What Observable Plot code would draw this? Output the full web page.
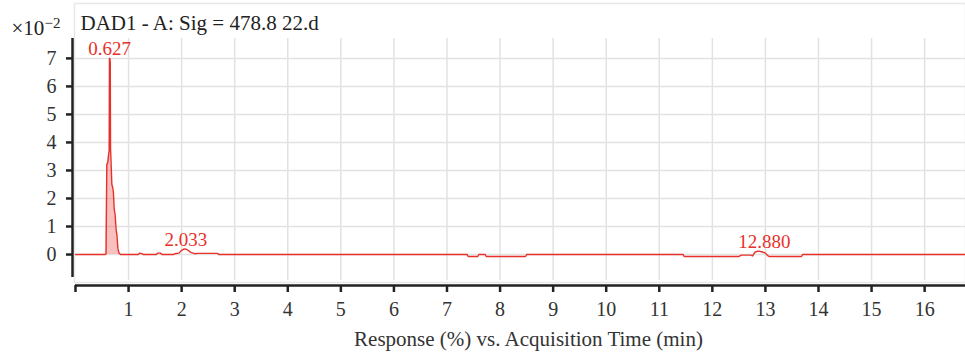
<!DOCTYPE html>
<html><head><meta charset="utf-8">
<script src="https://cdn.jsdelivr.net/npm/d3@7"></script>
<script src="https://cdn.jsdelivr.net/npm/@observablehq/plot@0.6"></script>
<style>
body{margin:0;background:#fff}
#chart{width:965px;height:355px;overflow:hidden}
</style></head><body><div id="chart"></div>
<script>
// Acquisition time (min) and response (x10^-2 %)
const times  = [0, 0.56, 0.575, 0.59, 0.61, 0.625, 0.635, 0.64, 0.648, 0.655, 0.66, 0.67, 0.685, 0.70, 0.715, 0.73, 0.745, 0.765, 0.78, 0.80, 0.82, 0.85,
  1.18, 1.21, 1.25, 1.28, 1.52, 1.55, 1.60, 1.63, 1.85, 1.87, 1.95, 2.00, 2.05, 2.10, 2.18, 2.25, 2.30, 2.68, 2.70,
  7.38, 7.40, 7.58, 7.60, 7.72, 7.74, 8.48, 8.50,
  11.45, 11.47, 12.50, 12.55, 12.72, 12.76, 12.80, 12.86, 12.93, 13.00, 13.05, 13.07, 13.68, 13.70, 16.77];
const signal = [0, 0, 0.02, 3.2, 3.3, 3.6, 3.7, 7.0, 7.0, 6.85, 3.8, 3.3, 2.5, 2.4, 2.2, 1.6, 1.45, 0.9, 0.7, 0.2, 0.05, 0,
  0, 0.05, 0.03, 0, 0, 0.05, 0.05, 0, 0, 0.03, 0.05, 0.15, 0.2, 0.18, 0.07, 0.03, 0.04, 0.04, 0,
  0, -0.07, -0.07, 0, 0, -0.07, -0.07, 0,
  0, -0.07, -0.07, -0.02, -0.02, -0.05, 0.08, 0.12, 0.1, 0.05, -0.05, -0.07, -0.07, 0, 0];

const peakTimes   = [0.645, 2.08, 12.98];
const peakHeights = [7.0, 0.2, 0.12];
const peakLabels  = ["0.627", "2.033", "12.880"];

const xTicks = [0, 1, 2, 3, 4, 5, 6, 7, 8, 9, 10, 11, 12, 13, 14, 15, 16];
const yTicks = [0, 1, 2, 3, 4, 5, 6, 7];

const titleText = "DAD1 - A: Sig = 478.8 22.d";
const xLabel = "Response (%) vs. Acquisition Time (min)";

const data = times.map((t, i) => ({t, v: signal[i]}));
const mainPeak = data.filter(d => d.t >= 0.56 && d.t <= 0.85);
const peaks = peakTimes.map((t, i) => ({t, v: peakHeights[i], label: peakLabels[i]}));

const red = "#e8302a";
const chart = Plot.plot({
  width: 965, height: 355,
  marginLeft: 75, marginRight: 0, marginTop: 38, marginBottom: 78,
  x: {domain: [0, 16.77]},
  y: {domain: [-0.82, 7.71]},
  style: {fontFamily: "'Liberation Serif', serif", fontSize: "20px", color: "#333", background: "#fff"},
  marks: [
    Plot.frame({stroke: "#e8e8e8", strokeWidth: 1.5, insetTop: -35, insetBottom: -5, insetLeft: -1}),
    Plot.ruleX(xTicks.slice(1), {stroke: "#e2e2e2", strokeWidth: 1.5, insetBottom: -3}),
    Plot.ruleY(yTicks, {stroke: "#e2e2e2", strokeWidth: 1.5}),
    Plot.areaY(mainPeak, {x: "t", y: "v", fill: red, fillOpacity: 0.3}),
    Plot.lineY(data, {x: "t", y: "v", stroke: red, strokeWidth: 1.4}),
    Plot.text(peaks, {x: "t", y: "v", text: "label", fill: red, lineAnchor: "bottom", dy: -3, fontSize: 19}),
    Plot.ruleX([0], {dx: -3, stroke: "#222", strokeWidth: 2.5}),
    Plot.axisY(yTicks, {tickSize: 6, tickPadding: 10, dx: -3, stroke: "#222", strokeWidth: 2.5, label: null, fill: "#333", fontSize: 20}),
    Plot.ruleY([-0.82], {dy: 8, stroke: "#222", strokeWidth: 2.5}),
    Plot.axisX(xTicks, {tickSize: 7, tickPadding: 9, dy: 8, stroke: "#222", strokeWidth: 2.5, label: null, fill: "#333", fontSize: 20,
      tickFormat: d => d === 0 ? "" : String(d)}),
    Plot.text([xLabel], {frameAnchor: "bottom", dx: 8, dy: 62, lineAnchor: "middle", fill: "#333", fontSize: 21}),
    Plot.text([titleText], {frameAnchor: "top-left", dx: 5, dy: -9, lineAnchor: "bottom", textAnchor: "start", fill: "#222", fontSize: 21}),
    Plot.text(["×10"], {frameAnchor: "top-left", dx: -64, dy: -4, lineAnchor: "bottom", textAnchor: "start", fill: "#222", fontSize: 21}),
    Plot.text(["−2"], {frameAnchor: "top-left", dx: -31, dy: -11, lineAnchor: "bottom", textAnchor: "start", fill: "#222", fontSize: 15})
  ]
});
document.getElementById("chart").append(chart);
</script></body></html>
